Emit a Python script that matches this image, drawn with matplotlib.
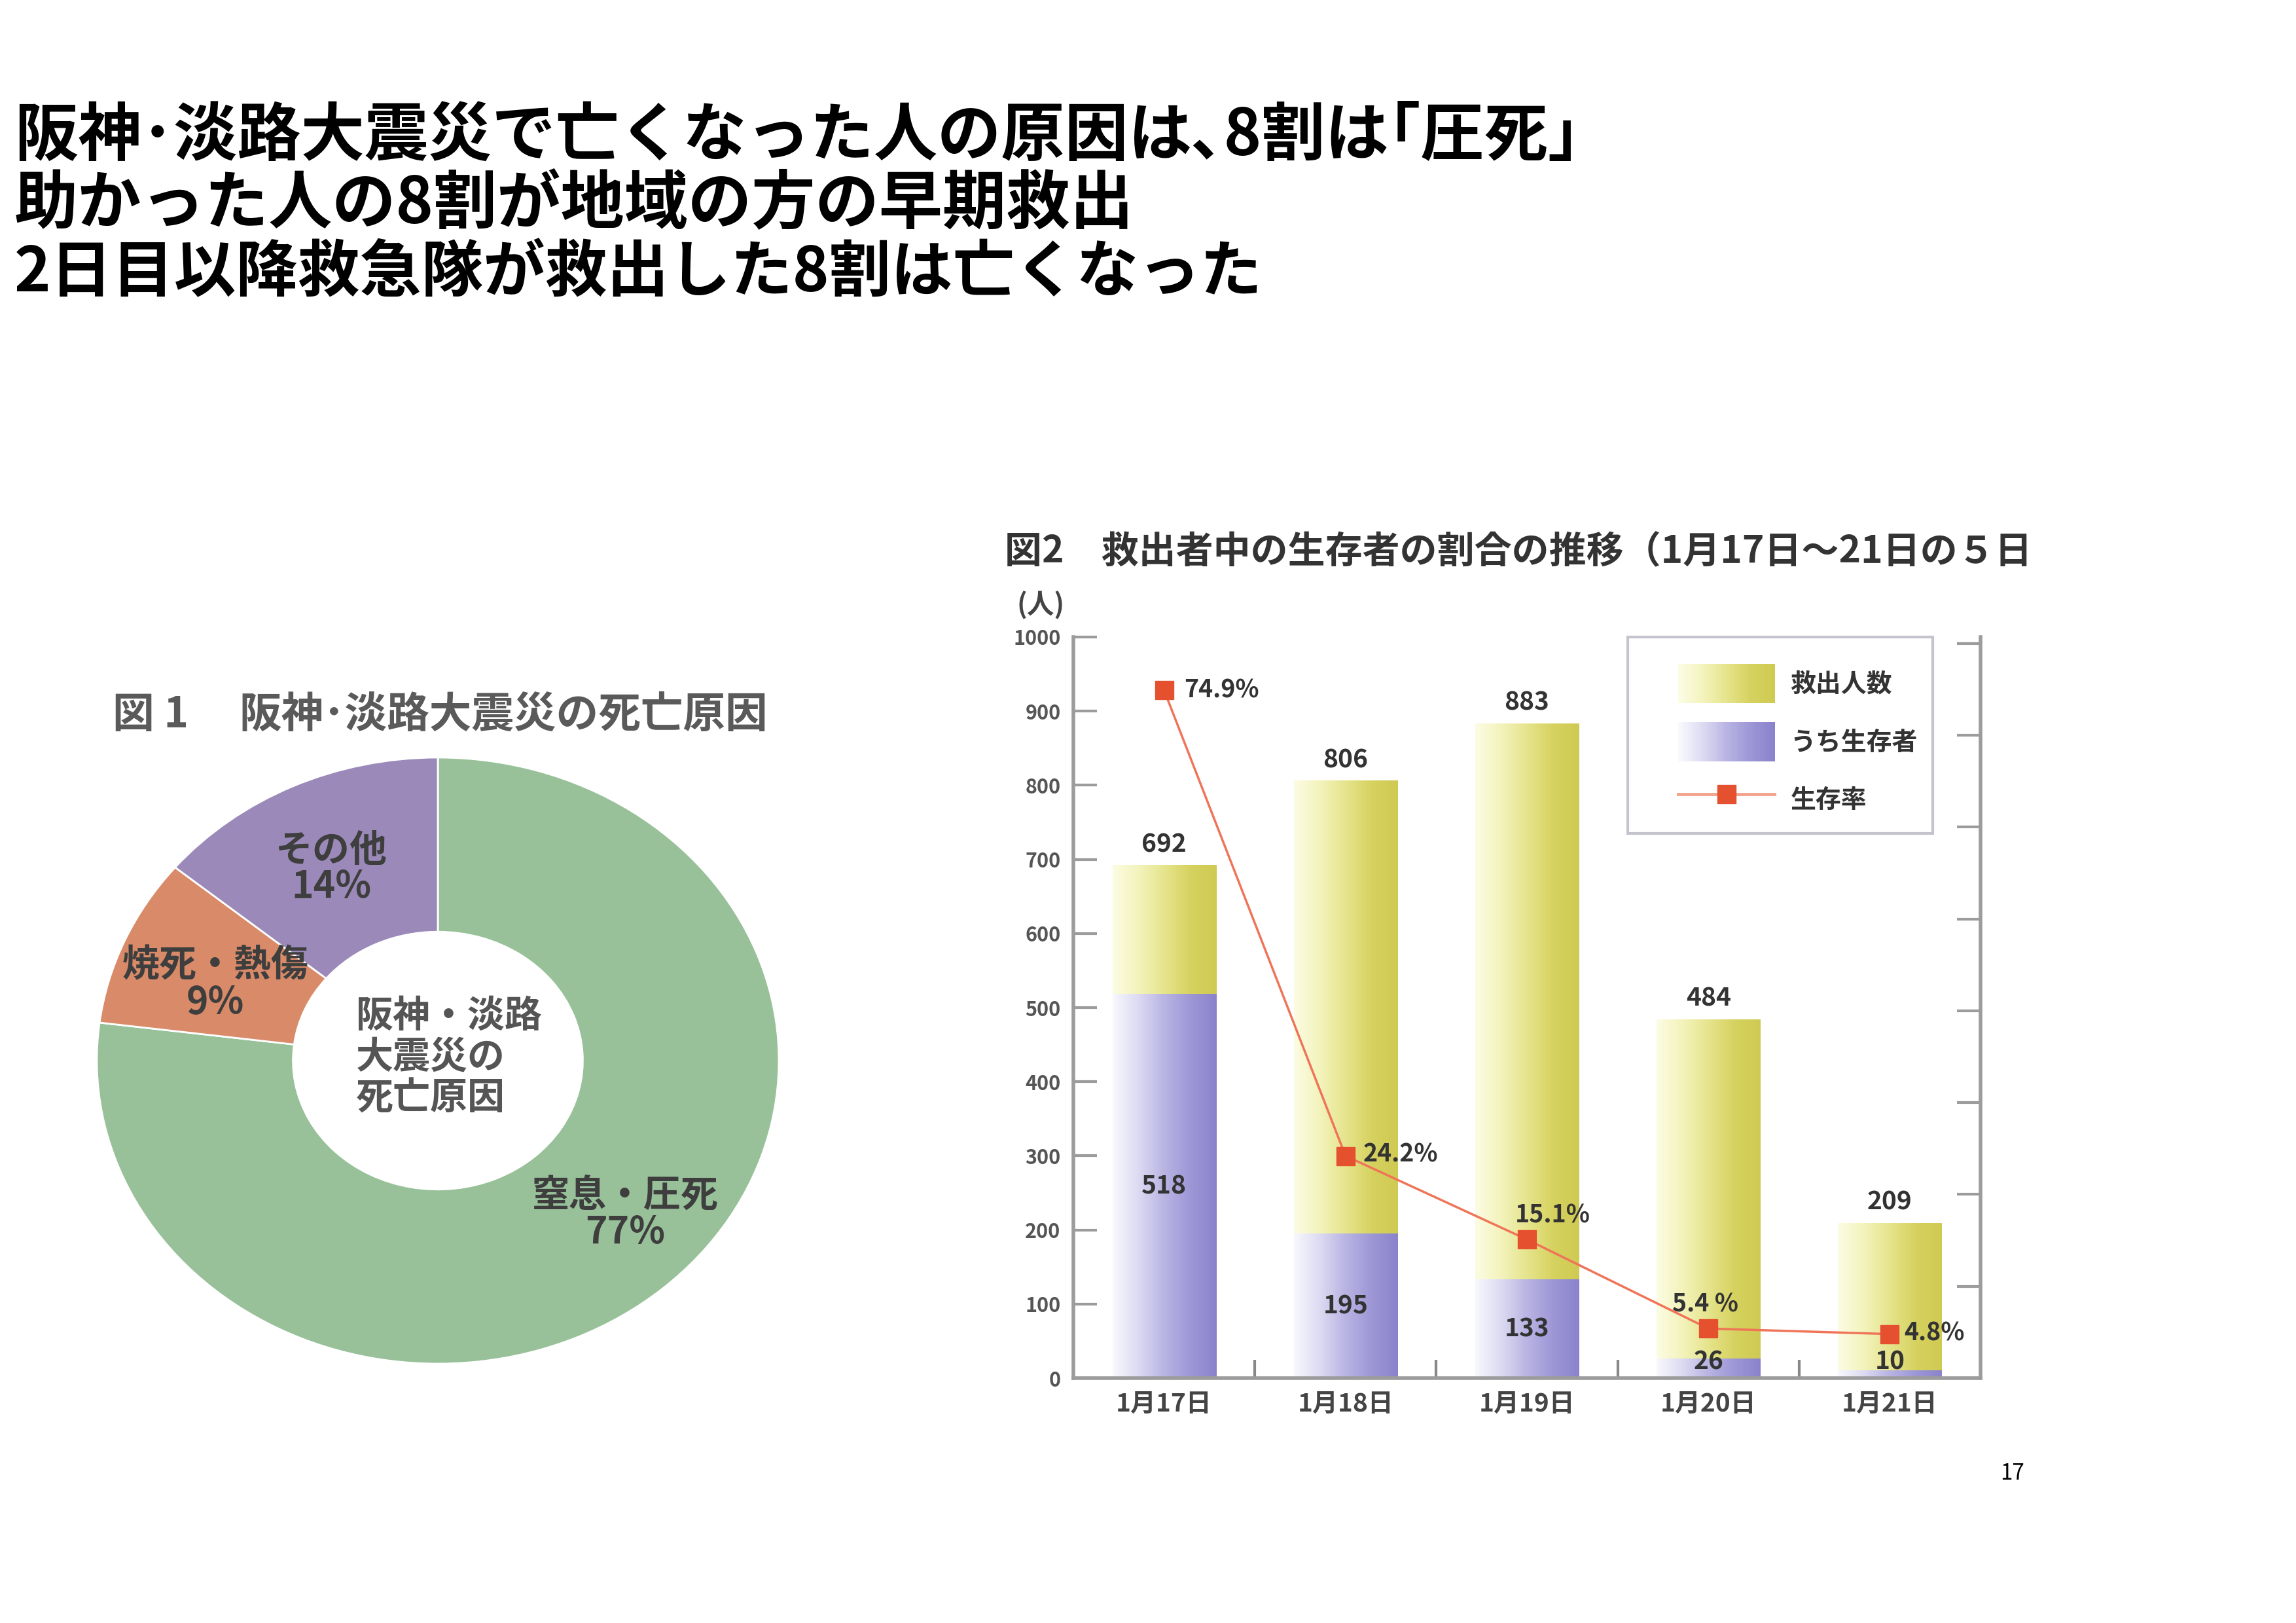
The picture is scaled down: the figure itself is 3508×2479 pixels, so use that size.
import numpy as np
import matplotlib
matplotlib.use("Agg")
import matplotlib.pyplot as plt
from matplotlib.patches import Rectangle
from matplotlib.lines import Line2D
from matplotlib.legend_handler import HandlerBase
from matplotlib.colors import LinearSegmentedColormap
from matplotlib.transforms import Bbox, TransformedBbox

JP = ["Noto Sans CJK JP", "DejaVu Sans"]
plt.rcParams["font.family"] = JP

# ---------------- data ----------------
title_lines = [
    "阪神･淡路大震災で亡くなった人の原因は､8割は｢圧死｣",
    "助かった人の8割が地域の方の早期救出",
    "2日目以降救急隊が救出した8割は亡くなった",
]
fig1_title_num = "図 1"
fig1_title = "阪神･淡路大震災の死亡原因"
cause_labels = ["窒息・圧死", "焼死・熱傷", "その他"]
cause_pcts = [77, 9, 14]
cause_colors = ["#98c19a", "#d98b69", "#9b8ab9"]
center_text = "阪神・淡路\n大震災の\n死亡原因"

fig2_title = "図2　救出者中の生存者の割合の推移（1月17日～21日の５日間）"
dates = ["1月17日", "1月18日", "1月19日", "1月20日", "1月21日"]
rescued = [692, 806, 883, 484, 209]
survivors = [518, 195, 133, 26, 10]
survival_rate = [74.9, 24.2, 15.1, 5.4, 4.8]
rate_labels = ["74.9%", "24.2%", "15.1%", "5.4 %", "4.8%"]
yticks_left = [0, 100, 200, 300, 400, 500, 600, 700, 800, 900, 1000]
yticks_right = [0, 10, 20, 30, 40, 50, 60, 70, 80]
legend_labels = ["救出人数", "うち生存者", "生存率"]
page_number = "17"

# ---------------- figure ----------------
W, H = 3508, 2479
fig = plt.figure(figsize=(W / 100, H / 100), dpi=100)
fig.patch.set_facecolor("white")


def fx(px):
    return px / W


def fy(py):
    return 1 - py / H


# main title
for line, py, fs in zip(title_lines, [208, 313, 418], [70, 70, 68]):
    fig.text(fx(22), fy(py), line, fontsize=fs, weight="bold", color="black",
             ha="left", va="center")

# ---------------- donut chart ----------------
cx, cy, rx, ry = 669, 1620, 521, 463
axp = fig.add_axes([fx(cx - rx * 1.25), fy(cy + ry * 1.25), 2.5 * rx / W, 2.5 * ry / H])
axp.pie(cause_pcts, colors=cause_colors, startangle=90, counterclock=False,
        radius=1.0, wedgeprops=dict(width=0.575, edgecolor="white", linewidth=2))
axp.set_aspect("auto")
axp.set_xlim(-1.25, 1.25)
axp.set_ylim(-1.25, 1.25)
axp.axis("off")


def pie_xy(px, py):
    return (px - cx) / rx, (cy - py) / ry


label_pos = [(955, 1855), (329, 1503), (506, 1327)]
for lab, pct, (px, py) in zip(cause_labels, cause_pcts, label_pos):
    x0, y0 = pie_xy(px, py)
    axp.text(x0, y0, f"{lab}\n{pct}%", ha="center", va="center", fontsize=41,
             weight="bold", color="#3e3e3e", linespacing=0.97)
x0, y0 = pie_xy(544, 1615)
axp.text(x0, y0, center_text, ha="left", va="center", fontsize=41,
         weight="bold", color="#555555", linespacing=1.1)

fig.text(fx(172), fy(1092), fig1_title_num, fontsize=46, weight="bold",
         color="#5a5a5a", ha="left", va="center")
fig.text(fx(365), fy(1092), fig1_title, fontsize=46.5, weight="bold",
         color="#5a5a5a", ha="left", va="center")

# ---------------- bar chart ----------------
t2 = fig.text(fx(1535), fy(843), fig2_title, fontsize=41, weight="bold",
              color="#333333", ha="left", va="center")
t2.set_clip_box(TransformedBbox(Bbox.from_extents(0, 0, fx(3100), 1), fig.transFigure))
t2.set_clip_on(True)

fig.text(fx(1590), fy(925), "(人)", fontsize=30, weight="bold", color="#444444",
         ha="center", va="center")

ax = fig.add_axes([fx(1640), fy(2105), 1386 / W, 1132 / H])
xpos = np.arange(len(dates))
bw = 0.57
yel_cmap = LinearSegmentedColormap.from_list(
    "yel", ["#fcfce4", "#f3f3bc", "#e6e48c", "#d6d260", "#cfca52"])
pur_cmap = LinearSegmentedColormap.from_list(
    "pur", ["#f8f8fd", "#dcdaf2", "#b8b4e3", "#9d97d6", "#8a83cc"])

bars_total = ax.bar(xpos, rescued, width=bw, color="#e6e48c", zorder=1)
bars_surv = ax.bar(xpos, survivors, width=bw, color="#b8b4e3", zorder=2)
grad = np.linspace(0, 1, 256).reshape(1, -1)
for cont, cmap, z in [(bars_total, yel_cmap, 1.1), (bars_surv, pur_cmap, 2.1)]:
    for p in cont.patches:
        x0 = p.get_x()
        ax.imshow(grad, extent=[x0, x0 + p.get_width(), p.get_y(), p.get_y() + p.get_height()],
                  aspect="auto", cmap=cmap, zorder=z, interpolation="bilinear")

ax.set_xlim(-0.5, len(dates) - 0.5)
ax.set_ylim(0, 1000)

spine_col = "#9c9c9c"
for s in ["top", "right"]:
    ax.spines[s].set_visible(False)
for s in ["left", "bottom"]:
    ax.spines[s].set_color(spine_col)
    ax.spines[s].set_linewidth(4)

ax.set_yticks(yticks_left)
ax.set_yticklabels([str(v) for v in yticks_left])
ax.tick_params(axis="y", direction="in", length=26, width=3, color=spine_col,
               labelsize=22, labelcolor="#555555", pad=14)
for lbl in ax.get_yticklabels():
    lbl.set_fontweight("bold")

ax.set_xticks(xpos)
ax.set_xticklabels(dates)
ax.tick_params(axis="x", which="major", length=0, labelsize=28, labelcolor="#444444", pad=14)
for lbl in ax.get_xticklabels():
    lbl.set_fontweight("bold")
ax.set_xticks(xpos[:-1] + 0.5, minor=True)
ax.tick_params(axis="x", which="minor", direction="in", length=20, width=3, color="#888888")

# value labels
for xi, v in zip(xpos, rescued):
    ax.annotate(str(v), (xi, v), xytext=(0, 9), textcoords="offset points",
                ha="center", va="bottom", fontsize=28, weight="bold", color="#333333")
for xi, v in zip(xpos, survivors):
    ax.text(xi, max(v / 2, 22), str(v), ha="center", va="center", fontsize=28,
            weight="bold", color="#333333", zorder=4)

# survival rate line
ax2 = ax.twinx()
ax2.set_ylim(0.7, 80.7)
line_col = "#ef7458"
mark_col = "#e5502f"
ax2.plot(xpos, survival_rate, color=line_col, lw=2.5, marker="s", ms=20,
         mfc=mark_col, mec=mark_col, zorder=5)
for s in ["top", "left", "bottom"]:
    ax2.spines[s].set_visible(False)
ax2.spines["right"].set_color(spine_col)
ax2.spines["right"].set_linewidth(4)
ax2.set_yticks(yticks_right)
ax2.tick_params(axis="y", direction="in", length=26, width=3, color=spine_col,
                labelright=False)

rate_offsets = [(22, 0, "left"), (19, 2, "left"), (-13, 27, "left"), (-40, 27, "left"), (16, 1, "left")]
for xi, r, lab, (ox, oy, ha) in zip(xpos, survival_rate, rate_labels, rate_offsets):
    ax2.annotate(lab, (xi, r), xytext=(ox, oy), textcoords="offset points",
                 ha=ha, va="center", fontsize=27, weight="bold", color="#333333", zorder=6)


# legend
class GradHandler(HandlerBase):
    def __init__(self, cmap, n=40):
        super().__init__()
        self.cmap = cmap
        self.n = n

    def create_artists(self, legend, orig_handle, xdescent, ydescent, width,
                       height, fontsize, trans):
        arts = []
        sw = width / self.n
        for i in range(self.n):
            r = Rectangle((-xdescent + i * sw, -ydescent), sw * 1.08, height,
                          facecolor=self.cmap(i / (self.n - 1)), edgecolor="none",
                          transform=trans)
            arts.append(r)
        return arts


h_yel = Rectangle((0, 0), 1, 1)
h_pur = Rectangle((0, 0), 1, 1)
h_line = Line2D([], [], color="#f3a48e", lw=3.5, marker="s", ms=20, mfc=mark_col, mec=mark_col)
leg = ax2.legend([h_yel, h_pur, h_line], legend_labels,
                 handler_map={h_yel: GradHandler(yel_cmap), h_pur: GradHandler(pur_cmap)},
                 loc="upper left", bbox_to_anchor=(fx(2545), fy(995)),
                 bbox_transform=fig.transFigure, frameon=False, borderpad=0,
                 handlelength=3.78, handleheight=1.96, labelspacing=0.77,
                 handletextpad=0.62, prop=dict(family=JP, size=28, weight="bold"))
for t in leg.get_texts():
    t.set_color("#333333")
fig.patches.append(Rectangle((fx(2487), fy(1273)), (2953 - 2487) / W, (1273 - 973) / H,
                             transform=fig.transFigure, fill=False,
                             edgecolor="#c4c4cc", linewidth=3))

fig.text(fx(3075), fy(2251), page_number, fontsize=24, color="black",
         ha="center", va="center")

fig.savefig("out.png", dpi=100, facecolor="white")
